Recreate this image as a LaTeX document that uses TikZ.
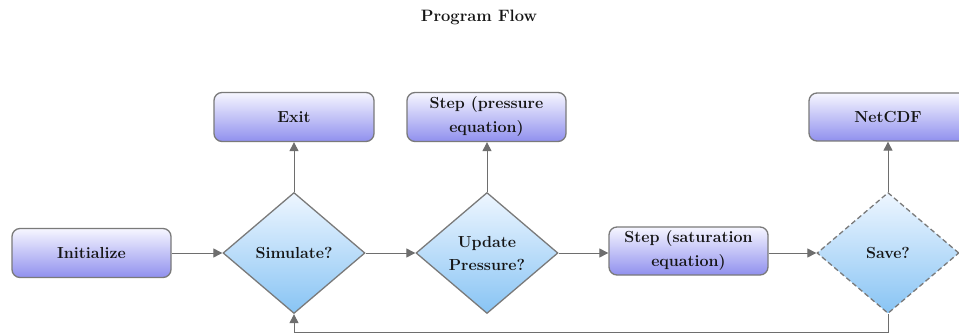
\documentclass[tikz,border=0pt]{standalone}
\usetikzlibrary{shapes.geometric,arrows.meta}
\definecolor{boxtop}{HTML}{F6F6FF}
\definecolor{boxbot}{HTML}{9090EE}
\definecolor{diatop}{HTML}{EEF6FF}
\definecolor{diabot}{HTML}{88C4F4}
\definecolor{edgegray}{HTML}{7A7A7A}
\definecolor{arrgray}{HTML}{6E6E6E}
\definecolor{txt}{HTML}{151515}
\tikzset{
  procbox/.style={draw=edgegray, line width=1.3pt, rounded corners=8pt,
    top color=boxtop, bottom color=boxbot, minimum width=159pt, minimum height=49pt,
    align=center, text=txt, font=\bfseries\fontsize{16}{24}\selectfont, inner sep=2pt},
  decide/.style={diamond, draw=edgegray, line width=1.3pt,
    top color=diatop, bottom color=diabot, minimum width=142pt, minimum height=121pt,
    aspect=1.17, inner sep=0pt, align=center, text=txt,
    font=\bfseries\fontsize{16}{23}\selectfont},
  flow/.style={draw=arrgray, line width=1pt, -{Triangle[length=9pt,width=9pt]}},
  titletext/.style={font=\bfseries\fontsize{16.5}{19}\selectfont, text=txt}
}
\begin{document}
\begin{tikzpicture}[x=1pt,y=-1pt]
\useasboundingbox (0,0) rectangle (959,334);
\node[titletext] (title) at (479,17) {Program Flow};
\node[procbox] (init) at (91.5,253) {Initialize};
\node[decide] (sim) at (294,253) {Simulate?};
\node[procbox, minimum width=160pt] (exit) at (294,117) {Exit};
\node[decide] (upd) at (487,253) {Update\\Pressure?};
\node[procbox] (stepp) at (486.5,117) {Step (pressure\\equation)};
\node[procbox, minimum height=48pt] (steps) at (688.5,251) {Step (saturation\\equation)};
\node[decide, dash pattern=on 5pt off 3pt] (save) at (888,253) {Save?};
\node[procbox, minimum width=158pt, minimum height=48pt] (netcdf) at (888,117) {NetCDF};
\coordinate (loopR) at (888,332);
\coordinate (loopL) at (294,332);
\draw[flow] (init.east) -- (sim.west);
\draw[flow] (sim.north) -- (exit.south);
\draw[flow] (sim.east) -- (upd.west);
\draw[flow] (upd.north) -- (upd.north |- stepp.south);
\draw[flow] (upd.east) -- (steps.west |- upd.east);
\draw[flow] (steps.east |- save.west) -- (save.west);
\draw[flow] (save.north) -- (netcdf.south);
\draw[flow] (save.south) -- (loopR) -- (loopL) -- (sim.south);
\end{tikzpicture}
\end{document}
